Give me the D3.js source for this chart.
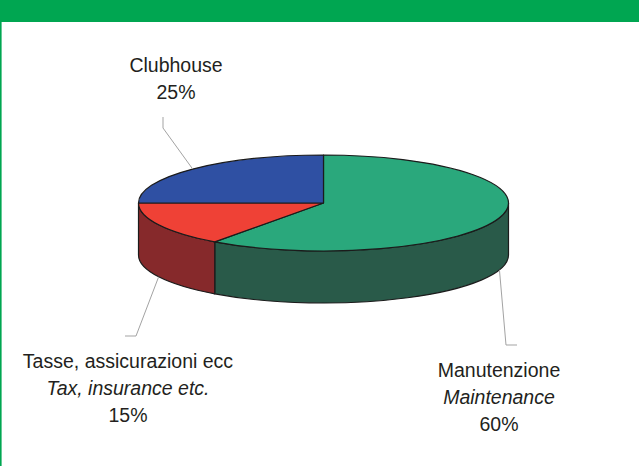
<!DOCTYPE html>
<html>
<head>
<meta charset="utf-8">
<script src="https://cdn.jsdelivr.net/npm/d3@7"></script>
<style>
  html, body { margin: 0; padding: 0; background: #fff; }
  svg { display: block; }
  text { font-family: "Liberation Sans", Arial, Helvetica, sans-serif; fill: #231f20; }
</style>
</head>
<body>
<svg id="chart" width="639" height="466"></svg>
<script>
// ---- data ----
const categories   = ["Manutenzione", "Tasse, assicurazioni ecc", "Clubhouse"];
const categoriesEn = ["Maintenance", "Tax, insurance etc.", ""];
const values       = [60, 15, 25];
const percentLabels = ["60%", "15%", "25%"];

// ---- styles ----
const topColors  = ["#2aa87c", "#ef4136", "#2f50a3"];
const sideColors = ["#295a49", "#86292b", "#1f3570"];

const W = 639, H = 466;
const svg = d3.select("#chart");

// frame
svg.append("rect").attr("x", 0).attr("y", 0).attr("width", W).attr("height", 22).attr("fill", "#00a651");
svg.append("rect").attr("x", 0).attr("y", 22).attr("width", 1.6).attr("height", H - 22).attr("fill", "#00a651");

// pie geometry
const cx = 323.5, cy = 203, rx = 185, ry = 48, depth = 52;
const pie = d3.pie().sort(null).value(d => d);
const arcs = pie(values);

const pt = (a, dy = 0) => [cx + rx * Math.sin(a), cy - ry * Math.cos(a) + dy];

function topPath(a0, a1) {
  const p0 = pt(a0), p1 = pt(a1);
  const large = (a1 - a0) > Math.PI ? 1 : 0;
  return `M${cx},${cy}L${p0[0]},${p0[1]}A${rx},${ry} 0 ${large} 1 ${p1[0]},${p1[1]}Z`;
}
function sidePath(a0, a1) {
  const p0 = pt(a0), p1 = pt(a1), q1 = pt(a1, depth), q0 = pt(a0, depth);
  const large = (a1 - a0) > Math.PI ? 1 : 0;
  return `M${p0[0]},${p0[1]}A${rx},${ry} 0 ${large} 1 ${p1[0]},${p1[1]}` +
         `L${q1[0]},${q1[1]}A${rx},${ry} 0 ${large} 0 ${q0[0]},${q0[1]}Z`;
}

const g = svg.append("g");
const frontStart = Math.PI / 2, frontEnd = 3 * Math.PI / 2;

// sides (front-facing portions only)
arcs.forEach((d, i) => {
  const a0 = Math.max(d.startAngle, frontStart), a1 = Math.min(d.endAngle, frontEnd);
  if (a1 > a0) {
    g.append("path").attr("d", sidePath(a0, a1))
      .attr("fill", sideColors[i]).attr("stroke", "#1b1b1b").attr("stroke-width", 1.2)
      .attr("stroke-linejoin", "round");
  }
});
// tops
arcs.forEach((d, i) => {
  g.append("path").attr("d", topPath(d.startAngle, d.endAngle))
    .attr("fill", topColors[i]).attr("stroke", "#1b1b1b").attr("stroke-width", 1.2)
    .attr("stroke-linejoin", "round");
});

// leader lines + labels
// layout for each label: elbow point, end point, text centre x, first baseline
const layout = [
  { elbow: [506, 345], end: [517, 345], tx: 499, ty: 377 },
  { elbow: [136, 336], end: [125, 336], tx: 128, ty: 368 },
  { elbow: [163, 128], end: [163, 117], tx: 176, ty: 72 }
];
const lineH = 27;
arcs.forEach((d, i) => {
  const mid = (d.startAngle + d.endAngle) / 2;
  const front = Math.cos(mid) < 0;
  const s = pt(mid, front ? depth : 0);
  const L = layout[i];
  svg.append("polyline")
    .attr("points", [s, L.elbow, L.end].map(p => p.join(",")).join(" "))
    .attr("fill", "none").attr("stroke", "#a3a3a3").attr("stroke-width", 1);

  const lines = [{ t: categories[i], it: false }];
  if (categoriesEn[i]) lines.push({ t: categoriesEn[i], it: true });
  lines.push({ t: percentLabels[i], it: false });
  const txt = svg.append("text").attr("text-anchor", "middle").attr("font-size", 19.5);
  lines.forEach((ln, k) => {
    txt.append("tspan").attr("x", L.tx).attr("y", L.ty + k * lineH)
      .attr("font-style", ln.it ? "italic" : "normal").text(ln.t);
  });
});
</script>
</body>
</html>
